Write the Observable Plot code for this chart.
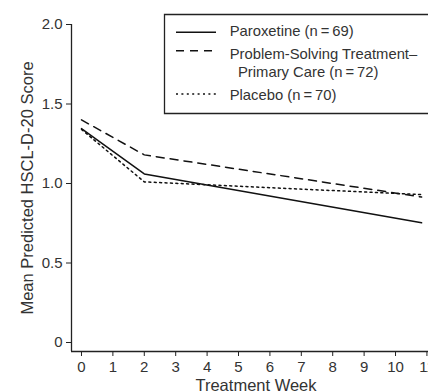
<!DOCTYPE html>
<html>
<head>
<meta charset="utf-8">
<script src="https://cdn.jsdelivr.net/npm/d3@7"></script>
<script src="https://cdn.jsdelivr.net/npm/@observablehq/plot@0.6"></script>
<style>
  html, body { margin: 0; padding: 0; background: #fff; overflow: hidden; }
  #chart svg { display: block; }
</style>
</head>
<body>
<div id="chart"></div>
<script>
// ---- data ----
const weeks = [0, 2, 10.83];
const paroxetine = [1.345, 1.06, 0.753];
const pstpc = [1.40, 1.18, 0.915];
const placebo = [1.34, 1.01, 0.93];

const seriesNames = ["Paroxetine", "PST-PC", "Placebo"];
const legendLabels = [
  ["Paroxetine (n\u2009=\u200969)"],
  ["Problem-Solving Treatment\u2013", "Primary Care (n\u2009=\u200972)"],
  ["Placebo (n\u2009=\u200970)"]
];
const xTicks = [0, 1, 2, 3, 4, 5, 6, 7, 8, 9, 10, 11];
const yTicks = [0, 0.5, 1.0, 1.5, 2.0];
const xLabel = "Treatment Week";
const yLabel = "Mean Predicted HSCL-D-20 Score";

// ---- build table ----
const seriesValues = [paroxetine, pstpc, placebo];
const rows = seriesNames.flatMap((s, i) =>
  weeks.map((w, j) => ({series: s, week: w, score: seriesValues[i][j]}))
);

const dashes = {"Paroxetine": null, "PST-PC": "8,6", "Placebo": "2,3.4"};
const xDomain = [-0.318, 11.05];
const yDomain = [-0.0566, 2.0];
const font = "'Liberation Sans', Arial, Helvetica, sans-serif";
const ink = "#222";

const chart = Plot.plot({
  width: 428,
  height: 392,
  marginLeft: 71,
  marginRight: 0,
  marginTop: 24,
  marginBottom: 41,
  style: {fontFamily: font, fontSize: "15px", color: "#333", background: "#fff"},
  x: {domain: xDomain},
  y: {domain: yDomain},
  marks: [
    Plot.ruleX([xDomain[0]], {stroke: ink, strokeWidth: 1.3}),
    Plot.ruleY([yDomain[0]], {stroke: ink, strokeWidth: 1.3}),
    Plot.axisX({ticks: xTicks, tickSize: 5, tickPadding: 5, fontSize: 15, stroke: ink, label: null}),
    Plot.axisY({ticks: yTicks, tickSize: 5, tickPadding: 4, fontSize: 15, stroke: ink, label: null,
      tickFormat: d => d === 0 ? "0" : d.toFixed(1)}),
    ...seriesNames.map(s => Plot.line(rows.filter(r => r.series === s), {
      x: "week", y: "score", stroke: "#111", strokeWidth: 1.5,
      strokeDasharray: dashes[s]
    })),
    Plot.text([yLabel], {frameAnchor: "left", dx: -44, rotate: -90, textAnchor: "middle",
      lineAnchor: "middle", fontSize: 16.5, fill: "#333"}),
    Plot.text([xLabel], {frameAnchor: "bottom", dx: 6, dy: 39, textAnchor: "middle",
      lineAnchor: "bottom", fontSize: 16.5, fill: "#333"})
  ]
});

document.getElementById("chart").append(chart);

// ---- legend box inside the plot (open on the right, running off the edge) ----
const svg = d3.select(chart);
const g = svg.append("g")
  .attr("font-family", font)
  .attr("font-size", 14.8)
  .attr("text-anchor", "start")
  .attr("fill", "#333");
g.append("path")
  .attr("d", "M440,14.5H164.5V113.5H440")
  .attr("fill", "#fff").attr("stroke", ink).attr("stroke-width", 1.3);
const sampleY = [32.3, 50.7, 94];
const textY = [[36], [59.3, 77.3], [100]];
seriesNames.forEach((s, i) => {
  const ln = g.append("line")
    .attr("x1", 176).attr("x2", 216)
    .attr("y1", sampleY[i]).attr("y2", sampleY[i])
    .attr("stroke", "#111").attr("stroke-width", 1.5);
  if (dashes[s]) ln.attr("stroke-dasharray", dashes[s]);
  legendLabels[i].forEach((t, k) => {
    g.append("text")
      .attr("x", k === 0 ? 229.7 : 238)
      .attr("y", textY[i][k])
      .attr("text-anchor", "start")
      .text(t);
  });
});
</script>
</body>
</html>
